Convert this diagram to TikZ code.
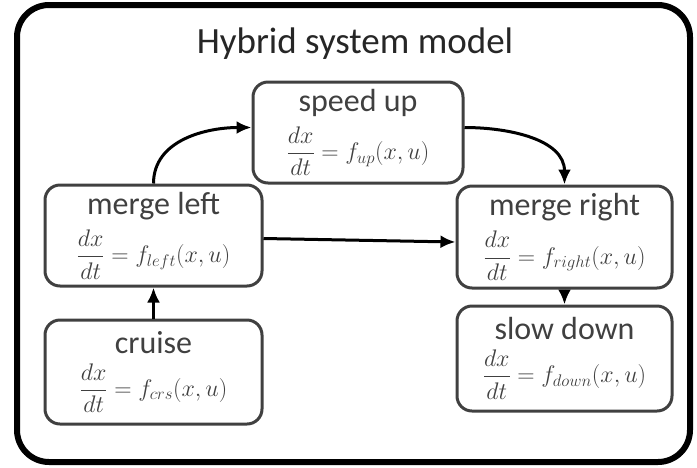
\documentclass[tikz,border=0pt]{standalone}
\usepackage{fix-cm}
\usepackage{amsmath}
\usepackage{fontspec}
\setmainfont{Carlito}
\usepackage{tikz}
\usetikzlibrary{arrows.meta, positioning}
\definecolor{boxgray}{RGB}{64,64,64}

\begin{document}
\begin{tikzpicture}[x=1pt, y=-1pt,
    mode/.style={draw=boxgray, text=boxgray, line width=3pt, rounded corners=15pt, align=center,
        inner sep=2pt, font=\fontsize{32}{34}\selectfont},
    trans/.style={line width=3pt, -{Latex[length=15pt,width=13pt]}}]
    \useasboundingbox (0,0) rectangle (697,467);
    % outer frame
    \draw[line width=6pt, rounded corners=32pt] (17,5) rectangle (690,462);
    \node[text=black!85] (title) at (355,44) {\fontsize{37}{40}\selectfont Hybrid system model};

    % modes
    \node[mode, minimum width=210pt, minimum height=101pt] (speedup) at (358,132.5)
        {speed up\\[9pt] \fontsize{24}{26}\selectfont $\dfrac{dx}{dt} = f_{up}(x,u)$};
    \node[mode, minimum width=217pt, minimum height=101pt] (mergeleft) at (153.5,235.5)
        {merge left\\[9pt] \fontsize{24}{26}\selectfont $\dfrac{dx}{dt} = f_{left}(x,u)$};
    \node[mode, minimum width=215pt, minimum height=102pt] (mergeright) at (564.5,237)
        {merge right\\[9pt] \fontsize{24}{26}\selectfont $\dfrac{dx}{dt} = f_{right}(x,u)$};
    \node[mode, minimum width=217pt, minimum height=104pt] (cruise) at (153.5,372)
        {cruise\\[9pt] \fontsize{24}{26}\selectfont $\dfrac{dx}{dt} = f_{crs}(x,u)$};
    \node[mode, minimum width=215pt, minimum height=105pt] (slowdown) at (564.5,358.5)
        {slow down\\[9pt] \fontsize{24}{26}\selectfont $\dfrac{dx}{dt} = f_{down}(x,u)$};

    % transitions
    \draw[trans] (mergeleft.north) to[out=90, in=180] ([yshift=5pt]speedup.west);
    \draw[trans] ([yshift=5pt]speedup.east) to[out=0, in=90] (mergeright.north);
    \draw[trans] ([yshift=-3pt]mergeleft.east) -- ([yshift=-5pt]mergeright.west);
    \draw[trans] (cruise) -- (mergeleft);
    \draw[trans] (mergeright) -- (slowdown);
\end{tikzpicture}
\end{document}
